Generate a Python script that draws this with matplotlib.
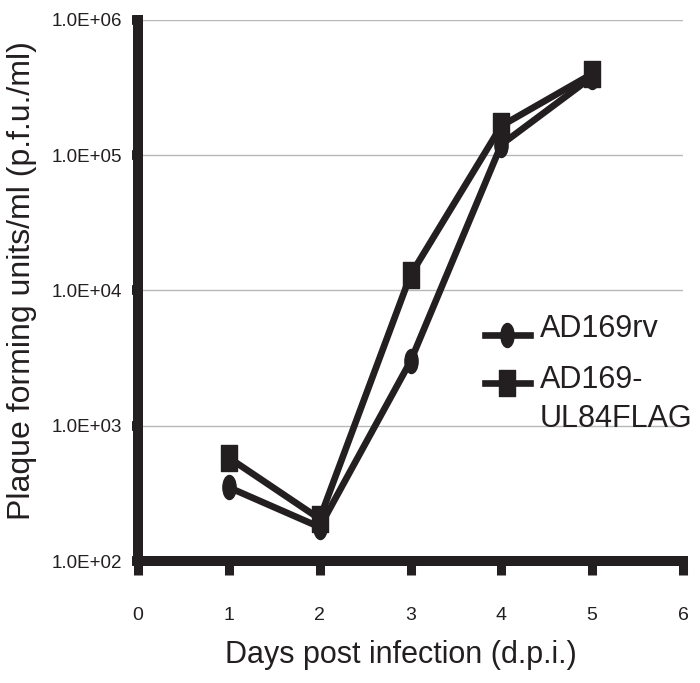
import numpy as np
import matplotlib
matplotlib.use("Agg")
import matplotlib.pyplot as plt
from matplotlib.path import Path
from matplotlib.lines import Line2D

# ---- data ----
days = [1, 2, 3, 4, 5]
ad169rv = [350, 178, 3000, 120000, 380000]
ad169_ul84flag = [580, 205, 13000, 165000, 400000]
series_labels = ["AD169rv", "AD169-", "UL84FLAG"]
x_ticks = [0, 1, 2, 3, 4, 5, 6]
y_ticks = [1e2, 1e3, 1e4, 1e5, 1e6]
y_tick_labels = ["1.0E+02", "1.0E+03", "1.0E+04", "1.0E+05", "1.0E+06"]

INK = "#231f20"
W, H = 700, 683

# custom tall markers
circ = Path.unit_circle()
ellipse = Path(circ.vertices * np.array([0.55, 1.0]), circ.codes)
square = Path([(-0.29, -0.5), (0.29, -0.5), (0.29, 0.5), (-0.29, 0.5), (-0.29, -0.5)],
              [Path.MOVETO, Path.LINETO, Path.LINETO, Path.LINETO, Path.CLOSEPOLY])

regular = ["Liberation Sans", "DejaVu Sans"]

fig = plt.figure(figsize=(W / 100, H / 100), dpi=100)
ax = fig.add_axes([138 / W, (H - 561) / H, (683 - 138) / W, (561 - 20) / H])

ax.set_yscale("log")
ax.set_xlim(0, 6)
ax.set_ylim(1e2, 1e6)

ax.grid(axis="y", which="major", color="#b8b8b8", linewidth=1.0, zorder=0)
ax.set_axisbelow(True)

ax.plot(days, ad169rv, color=INK, lw=4.8, marker=ellipse, markersize=17.3,
        markerfacecolor=INK, markeredgecolor=INK, zorder=3)
ax.plot(days, ad169_ul84flag, color=INK, lw=4.8, marker=square, markersize=18.7,
        markerfacecolor=INK, markeredgecolor=INK, zorder=3)

for s in ["top", "right"]:
    ax.spines[s].set_visible(False)
for s in ["left", "bottom"]:
    ax.spines[s].set_linewidth(7.2)
    ax.spines[s].set_color(INK)
    ax.spines[s].set_capstyle("projecting")

ax.set_xticks(x_ticks)
ax.set_xticklabels([str(v) for v in x_ticks], fontfamily=regular, fontsize=14)
ax.set_yticks(y_ticks)
ax.set_yticklabels(y_tick_labels, fontfamily=regular, fontsize=13.5)
ax.minorticks_off()
ax.tick_params(axis="x", direction="out", length=10, width=6.5, color=INK, pad=23,
               labelcolor=INK)
ax.tick_params(axis="y", direction="out", length=4.3, width=7, color=INK, pad=7,
               labelcolor=INK)

fig.text(22 / W, 1 - 281 / H, "Plaque forming units/ml (p.f.u./ml)", rotation=90,
         ha="center", va="center", fontsize=23, fontfamily=regular, color=INK)
fig.text(401 / W, 1 - 655 / H, "Days post infection (d.p.i.)",
         ha="center", va="center", fontsize=22, fontfamily=regular, color=INK)

# legend (manual)
for yy, mk, ms in [(335, ellipse, 17.3), (383, square, 18.7)]:
    fig.add_artist(Line2D([485 / W, 507 / W, 530 / W], [1 - yy / H] * 3,
                          transform=fig.transFigure, color=INK, lw=4.8,
                          marker=mk, markersize=ms, markevery=[1],
                          markerfacecolor=INK, markeredgecolor=INK))
fig.text(540 / W, 1 - 329 / H, series_labels[0], ha="left", va="center",
         fontsize=22, fontfamily=regular, color=INK)
fig.text(540 / W, 1 - 380 / H, series_labels[1], ha="left", va="center",
         fontsize=22, fontfamily=regular, color=INK)
fig.text(540 / W, 1 - 419 / H, series_labels[2], ha="left", va="center",
         fontsize=22, fontfamily=regular, color=INK)

fig.savefig("out.png", dpi=100)
